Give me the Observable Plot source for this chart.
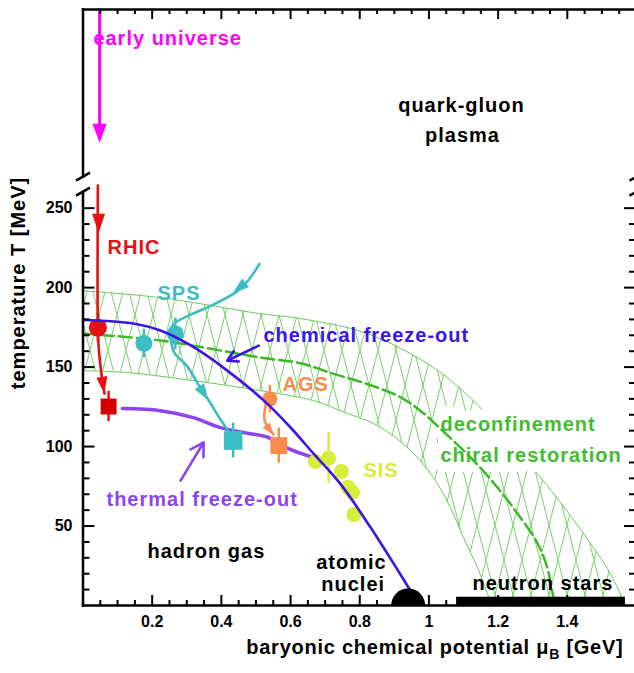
<!DOCTYPE html>
<html>
<head>
<meta charset="utf-8">
<script src="https://cdn.jsdelivr.net/npm/d3@7"></script>
<script src="https://cdn.jsdelivr.net/npm/@observablehq/plot@0.6"></script>
<style>
  html, body { margin: 0; padding: 0; background: #fff; overflow: hidden; }
</style>
</head>
<body>
<div id="chart"></div>
<script>
// ---------- axes ----------
const muTicks = [0.2, 0.4, 0.6, 0.8, 1, 1.2, 1.4];
const muTickLabels = ["0.2", "0.4", "0.6", "0.8", "1", "1.2", "1.4"];
const tTicks = [50, 100, 150, 200, 250];
const tTickLabels = ["50", "100", "150", "200", "250"];
const muMax = 1.6;               // GeV, right edge
const tTop = 375;                // MeV, top edge of the broken temperature axis
const tBreak = [260.4, 269.8];   // temperature axis is broken between these
const xTitle = "baryonic chemical potential \u03BCB [GeV]";
const yTitle = "temperature T [MeV]";

// ---------- freeze-out points (circles: chemical, squares: thermal) ----------
const chemExp = ["RHIC", "SPS", "SPS", "AGS", "SIS", "SIS", "SIS", "SIS", "SIS", "SIS"];
const chemMu  = [0.043, 0.176, 0.267, 0.540, 0.672, 0.710, 0.747, 0.766, 0.779, 0.783];
const chemT   = [174.8, 164.8, 170.9, 130.0, 90.6, 92.8, 84.3, 74.4, 71.1, 57.2];
const chemErr = [9, 9, 10, 8.5, 0, 16, 0, 0, 6, 0];
const thermExp = ["RHIC", "SPS", "AGS"];
const thermMu  = [0.074, 0.434, 0.566];
const thermT   = [125.2, 103.8, 100.6];
const thermErr = [9.5, 11, 11];

// ---------- freeze-out curves [muB, T] ----------
const chemicalFreezeOut = [[0, 179.6], [0.146, 177.4], [0.224, 173], [0.320, 162.5], [0.417, 147.8],
  [0.523, 128.9], [0.600, 112], [0.667, 95.4], [0.744, 76.5], [0.831, 49.2], [0.948, 8.8]];
const thermalFreezeOut = [[0.114, 123.9], [0.224, 122.6], [0.319, 118.2], [0.397, 111.9],
  [0.464, 108.8], [0.536, 105.7], [0.594, 98.7], [0.666, 93.1]];

// ---------- deconfinement / chiral restoration band ----------
const bandOuter = [[0, 198.1], [0.224, 193.7], [0.513, 183.6], [0.629, 180.5], [0.822, 171.1],
  [1.013, 149.7], [1.140, 126.4], [1.250, 98.7], [1.337, 76.7], [1.409, 56.6], [1.467, 39],
  [1.516, 23.3], [1.553, 7.5], [1.568, 0]];
const bandInner = [[0, 147.8], [0.129, 146.5], [0.319, 141.5], [0.513, 135.2], [0.666, 128.9],
  [0.764, 120.8], [0.840, 114.5], [0.938, 99.4], [1.013, 80.5], [1.062, 61.6], [1.100, 42.8],
  [1.140, 23.9], [1.169, 7.5], [1.181, 0]];
const deconfinementLine = [[0, 171.1], [0.224, 166.7], [0.513, 156], [0.629, 152.4], [0.725, 145.7],
  [0.821, 139.4], [0.918, 131], [0.975, 122.6], [1.033, 111.3], [1.129, 91.2], [1.198, 74.2],
  [1.256, 57.9], [1.314, 39], [1.342, 23.9], [1.360, 5], [1.366, 0]];

// ---------- evolution paths ----------
const earlyUniverse = [[0.048, 375], [0.048, 297]];
const earlyUniverseHead = [[0.048, 291.2]];
const rhicPath = [[0.043, 264.2], [0.043, 174.8], [0.046, 160.4], [0.054, 144.7], [0.062, 133.3]];
const rhicHeadTop = [[0.045, 234.6]];
const rhicHeadLow = [[0.062, 133.3]];
const spsIn = [[0.510, 214.9], [0.477, 204.4], [0.444, 197.5], [0.377, 189.3], [0.311, 183.0],
  [0.262, 177.2], [0.250, 172.3]];
const spsOut = [[0.253, 168.6], [0.264, 159.1], [0.302, 150.3], [0.337, 137.7], [0.360, 130.2],
  [0.392, 118.9], [0.421, 109.4]];
// arrow heads: [from muB, from T, tip muB, tip T]
const spsHeads = [[0.466, 202.4, 0.432, 196.2], [0.337, 137.7, 0.363, 128.9]];
const agsPath = [[0.530, 127.7], [0.525, 116.4], [0.551, 107.5]];
const agsHeads = [[0.530, 113.4, 0.551, 107.5]];
const chemLabelArrow = [[0.508, 163.5, 0.417, 154.1]];
const thermLabelArrow = [[0.282, 78.6, 0.349, 102.7]];

// ---------- nuclear matter ----------
const nucleus = [[0.94, 0]];
const neutronStars = [[1.08, 1.568, 0, 5.2]];

// ---------- annotations ----------
const startLabels = [
  {text: "early universe", mu: 0.030, T: 356.9, group: "early"},
  {text: "RHIC", mu: 0.0708, T: 225.4, group: "RHIC"},
  {text: "SPS", mu: 0.2153, T: 196.5, group: "SPS"},
  {text: "chemical freeze-out", mu: 0.5217, T: 169.6, group: "chemical"},
  {text: "AGS", mu: 0.5766, T: 139.2, group: "AGS"},
  {text: "thermal freeze-out", mu: 0.0679, T: 66.9, group: "thermal"},
  {text: "SIS", mu: 0.8107, T: 84.7, group: "SIS"},
  {text: "hadron gas", mu: 0.1864, T: 34.0, group: "black"}
];
const centeredLabels = [
  {text: "quark-gluon", mu: 1.094, T: 314.3, group: "black"},
  {text: "plasma", mu: 1.097, T: 295.4, group: "black"},
  {text: "atomic", mu: 0.776, T: 27.0, group: "black"},
  {text: "nuclei", mu: 0.781, T: 12.9, group: "black"},
  {text: "neutron stars", mu: 1.3295, T: 13.5, group: "black"}
];
const bandLabels = [
  {text: "deconfinement", mu: 1.0332, T: 114.1},
  {text: "chiral restoration", mu: 1.0332, T: 94.2}
];

// ---------- styling ----------
const palette = {
  early: "#ff00ff", RHIC: "#e81010", SPS: "#3cbdc4", AGS: "#fb8b4b", SIS: "#d6ee3a",
  chemical: "#3b14e6", thermal: "#8e44ec", deconf: "#44bb33", black: "#000000"
};
const rhicSquare = "#d40000";
const hatchGreen = "#66cc55";
const circleR = {RHIC: 9, SPS: 8.5, AGS: 7.5, SIS: 7.5};
const squareR = {RHIC: 9, SPS: 10.5, AGS: 9.5};

const W = 638, H = 673, mL = 82.5, mR = 2, mT = 9, mB = 68;
const innerW = W - mL - mR, innerH = H - mT - mB;
const kx = innerW / muMax, ky = innerH / tTop;   // pixels per GeV, per MeV
const labelFont = 20;

// filled arrow head, tip at the anchor, pointing down (rotated by deg)
function arrowHead(deg, w = 6.5, h = 19) {
  const a = deg * Math.PI / 180, c = Math.cos(a), s = Math.sin(a);
  const p = (x, y) => [x * c - y * s, x * s + y * c];
  return {draw(ctx) {
    const p1 = p(-w, -h), p2 = p(w, -h);
    ctx.moveTo(p1[0], p1[1]); ctx.lineTo(p2[0], p2[1]); ctx.lineTo(0, 0); ctx.closePath();
  }};
}
// arrow head oriented along a segment given in data units
function headAlong([m1, t1, m2, t2], w, h) {
  const ux = (m2 - m1) * kx, uy = -(t2 - t1) * ky;
  return arrowHead(Math.atan2(-ux, uy) * 180 / Math.PI, w, h);
}
const headMarks = (heads, color, w, h) => heads.map(hd =>
  Plot.dot([hd], {x: d => d[2], y: d => d[3], symbol: headAlong(hd, w, h), fill: color, r: 5}));

const halfDisc = {draw(ctx) { ctx.moveTo(-17, 0); ctx.arc(0, 0, 17, Math.PI, 2 * Math.PI); ctx.closePath(); }};
const breakSlash = {draw(ctx) { ctx.moveTo(-7, 4); ctx.lineTo(7, -4); }};

const chem = chemMu.map((mu, i) => ({exp: chemExp[i], mu, T: chemT[i], err: chemErr[i]}));
const therm = thermMu.map((mu, i) => ({exp: thermExp[i], mu, T: thermT[i], err: thermErr[i]}));
const band = bandInner.map((p, i) => ({muLo: p[0], tLo: p[1], muHi: bandOuter[i][0], tHi: bandOuter[i][1]}));

const X = d => d[0], Y = d => d[1];
const curve = (pts, opts) => Plot.line(pts, {x: X, y: Y, curve: "catmull-rom", ...opts});
const arrows = (arr, opts) => Plot.arrow(arr, {x1: d => d[0], y1: d => d[1], x2: d => d[2], y2: d => d[3], ...opts});

// frame segments (axis lines with the temperature break)
const frame = [
  [0, 0, muMax, 0], [0, tTop, muMax, tTop],
  [0, 0, 0, tBreak[0]], [0, tBreak[1], 0, tTop],
  [muMax, 0, muMax, tBreak[0]], [muMax, tBreak[1], muMax, tTop]
];
const breaks = [[0, tBreak[0]], [0, tBreak[1]], [muMax, tBreak[0]], [muMax, tBreak[1]]];

const muMinor = d3.range(1, 32).map(i => +(i * 0.05).toFixed(2)).filter(v => !muTicks.includes(v));
const tMinor = d3.range(1, 25).map(i => i * 10).filter(v => v % 50 !== 0);

const marks = [
  // hatched band
  Plot.area(band, {x1: "muLo", y1: "tLo", x2: "muHi", y2: "tHi", fill: "url(#bandHatch)", curve: "catmull-rom"}),
  curve(bandOuter, {stroke: hatchGreen, strokeWidth: 1}),
  curve(bandInner, {stroke: hatchGreen, strokeWidth: 1}),
  Plot.text(bandLabels, {x: "mu", y: "T", text: "text", textAnchor: "start", fill: palette.deconf,
    stroke: "white", strokeWidth: 20, fontSize: labelFont}),
  curve(deconfinementLine, {stroke: "#3cb82a", strokeWidth: 2.5, strokeDasharray: "13,5"}),

  // thermal freeze-out curve
  curve(thermalFreezeOut, {stroke: palette.thermal, strokeWidth: 3.5}),

  // early universe
  Plot.line(earlyUniverse, {x: X, y: Y, stroke: palette.early, strokeWidth: 3}),
  Plot.dot(earlyUniverseHead, {x: X, y: Y, symbol: arrowHead(0, 7, 19), fill: palette.early, r: 5}),

  // RHIC
  curve(rhicPath, {stroke: palette.RHIC, strokeWidth: 2.6}),
  Plot.dot(rhicHeadTop, {x: X, y: Y, symbol: arrowHead(0, 6.5, 19), fill: palette.RHIC, r: 5}),
  Plot.dot(rhicHeadLow, {x: X, y: Y, symbol: arrowHead(-9, 5.5, 17), fill: palette.RHIC, r: 5}),

  // SPS
  curve(spsIn, {stroke: palette.SPS, strokeWidth: 2.6}),
  curve(spsOut, {stroke: palette.SPS, strokeWidth: 2.6}),
  ...headMarks(spsHeads, palette.SPS, 5.5, 17),

  // AGS
  curve(agsPath, {stroke: palette.AGS, strokeWidth: 2.6}),
  ...headMarks(agsHeads, palette.AGS, 4.5, 12),

  // error bars
  Plot.ruleX(chem.filter(d => d.err > 0), {x: "mu", y1: d => d.T - d.err, y2: d => d.T + d.err,
    stroke: d => palette[d.exp], strokeWidth: 2.5}),
  Plot.ruleX(therm, {x: "mu", y1: d => d.T - d.err, y2: d => d.T + d.err,
    stroke: d => palette[d.exp], strokeWidth: 2.5}),

  // data points
  ...Object.keys(circleR).map(e => Plot.dot(chem.filter(d => d.exp === e),
    {x: "mu", y: "T", r: circleR[e], fill: palette[e], symbol: "circle"})),
  ...Object.keys(squareR).map(e => Plot.dot(therm.filter(d => d.exp === e),
    {x: "mu", y: "T", r: squareR[e], fill: e === "RHIC" ? rhicSquare : palette[e], symbol: "square"})),

  // chemical freeze-out curve
  curve(chemicalFreezeOut, {stroke: palette.chemical, strokeWidth: 2.6}),

  // label arrows
  arrows(chemLabelArrow, {stroke: palette.chemical, strokeWidth: 2.6, headLength: 13, headAngle: 60}),
  arrows(thermLabelArrow, {stroke: palette.thermal, strokeWidth: 2.6, headLength: 14, headAngle: 60}),

  // nuclear matter
  Plot.dot(nucleus, {x: X, y: Y, symbol: halfDisc, fill: "black", r: 5}),
  Plot.rect(neutronStars, {x1: d => d[0], x2: d => d[1], y1: d => d[2], y2: d => d[3], fill: "black"}),

  // annotations
  Plot.text(startLabels, {x: "mu", y: "T", text: "text", textAnchor: "start",
    fill: d => palette[d.group], fontSize: labelFont}),
  Plot.text(centeredLabels, {x: "mu", y: "T", text: "text", textAnchor: "middle",
    fill: d => palette[d.group], fontSize: labelFont}),

  // frame, ticks and axis breaks
  Plot.link(frame, {x1: d => d[0], y1: d => d[1], x2: d => d[2], y2: d => d[3],
    stroke: "black", strokeWidth: 2.5, strokeLinecap: "square"}),
  Plot.tickX(muMinor, {x: d => d, insetTop: innerH - 5, strokeWidth: 2}),
  Plot.tickX(muTicks, {x: d => d, insetTop: innerH - 10, strokeWidth: 2}),
  Plot.tickX(muMinor, {x: d => d, insetBottom: innerH - 5, strokeWidth: 2}),
  Plot.tickX(muTicks, {x: d => d, insetBottom: innerH - 10, strokeWidth: 2}),
  Plot.tickY(tMinor, {y: d => d, insetRight: innerW - 7, strokeWidth: 2}),
  Plot.tickY(tTicks, {y: d => d, insetRight: innerW - 12, strokeWidth: 2}),
  Plot.tickY(tMinor, {y: d => d, insetLeft: innerW - 7, strokeWidth: 2}),
  Plot.tickY(tTicks, {y: d => d, insetLeft: innerW - 12, strokeWidth: 2}),
  Plot.dot(breaks, {x: X, y: Y, symbol: breakSlash, stroke: "black", fill: "none", strokeWidth: 2.5, r: 5}),

  Plot.axisX({anchor: "bottom", ticks: muTicks, tickFormat: d => muTickLabels[muTicks.indexOf(d)],
    tickSize: 0, tickPadding: 10.5, fontSize: 16, label: null}),
  Plot.axisY({anchor: "left", ticks: tTicks, tickFormat: d => tTickLabels[tTicks.indexOf(d)],
    tickSize: 0, tickPadding: 10.5, fontSize: 16, label: null}),
  Plot.text([xTitle], {text: d => d, frameAnchor: "bottom-right", textAnchor: "end", dx: -13, dy: 48.6, fontSize: 20}),
  Plot.text([yTitle], {text: d => d, frameAnchor: "left", textAnchor: "middle", rotate: -90,
    dx: -64, dy: -24.5, fontSize: 20})
];

const svg = Plot.plot({
  width: W, height: H,
  marginLeft: mL, marginRight: mR, marginTop: mT, marginBottom: mB,
  x: {domain: [0, muMax]},
  y: {domain: [0, tTop]},
  color: {type: "identity"},
  style: {fontFamily: "'Liberation Sans', Arial, Helvetica, sans-serif", fontWeight: "bold",
    fontSize: "16px", background: "#fff", maxWidth: "none", overflow: "hidden"},
  marks
});

// cross-hatch fill for the transition band
const defs = d3.select(svg).insert("defs", ":first-child");
const pat = defs.append("pattern").attr("id", "bandHatch").attr("patternUnits", "userSpaceOnUse")
  .attr("width", 18).attr("height", 70);
pat.append("path").attr("d", "M0,0L18,70M18,0L0,70").attr("stroke", hatchGreen)
  .attr("stroke-width", 0.9).attr("fill", "none");

// wide-set lettering for annotations and titles
d3.select(svg).selectAll('g[aria-label="text"] text').style("letter-spacing", "1px");

// subscript B on mu
d3.select(svg).selectAll("text").filter(function () { return this.textContent === xTitle; })
  .style("letter-spacing", "0.75px")
  .each(function () {
    const t = d3.select(this);
    t.text(null);
    t.append("tspan").text("baryonic chemical potential \u03BC");
    t.append("tspan").attr("font-size", 14).attr("dy", 5).text("B");
    t.append("tspan").attr("dy", -5).text(" [GeV]");
  });

document.getElementById("chart").appendChild(svg);
</script>
</body>
</html>
